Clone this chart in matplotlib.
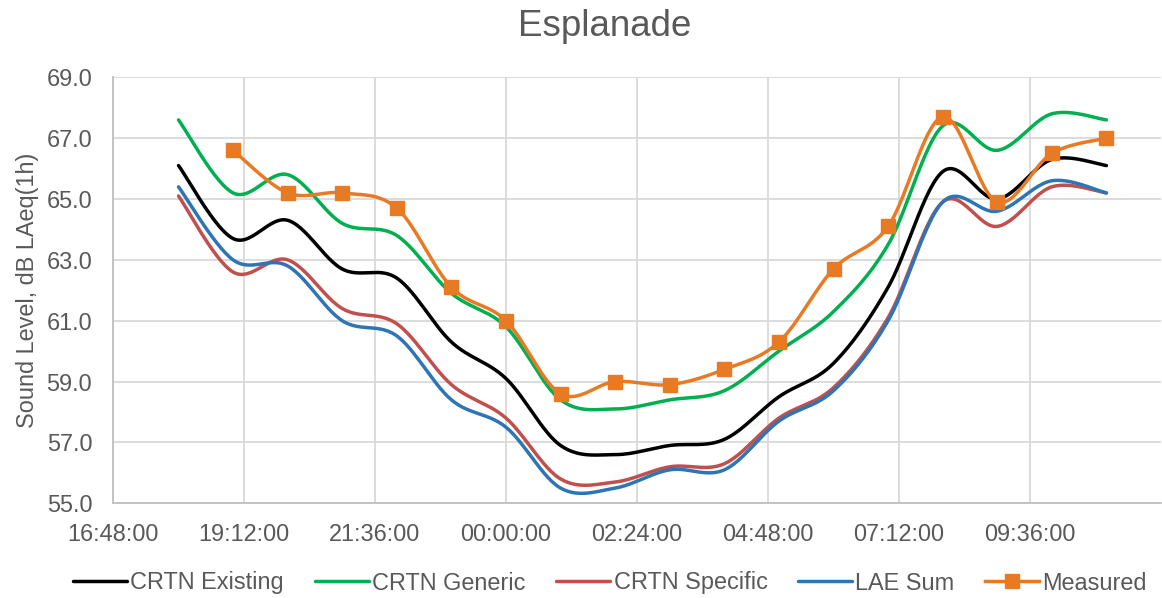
import numpy as np
import matplotlib
matplotlib.use("Agg")
import matplotlib.pyplot as plt
from matplotlib.ticker import FixedLocator, FuncFormatter

plt.rcParams['font.family'] = ['Liberation Sans', 'DejaVu Sans']

# Hourly timestamps (evening through to next morning)
hours = ["18:00", "19:00", "20:00", "21:00", "22:00", "23:00", "00:00", "01:00", "02:00",
         "03:00", "04:00", "05:00", "06:00", "07:00", "08:00", "09:00", "10:00", "11:00"]

crtn_existing = [66.1, 63.7, 64.3, 62.7, 62.4, 60.3, 59.1, 56.9, 56.6,
                 56.9, 57.1, 58.5, 59.6, 62.1, 65.9, 65.0, 66.3, 66.1]
crtn_generic = [67.6, 65.2, 65.8, 64.2, 63.8, 61.9, 60.8, 58.4, 58.1,
                58.4, 58.7, 60.0, 61.3, 63.5, 67.4, 66.6, 67.8, 67.6]
crtn_specific = [65.1, 62.6, 63.0, 61.4, 60.9, 58.9, 57.8, 55.8, 55.7,
                 56.2, 56.3, 57.8, 58.8, 61.1, 64.9, 64.1, 65.4, 65.2]
lae_sum = [65.4, 63.0, 62.8, 61.0, 60.5, 58.4, 57.5, 55.5, 55.5,
           56.1, 56.1, 57.7, 58.7, 61.0, 64.9, 64.6, 65.6, 65.2]

# Measured levels start one hour later (19:00)
measured = [66.6, 65.2, 65.2, 64.7, 62.1, 61.0, 58.6, 59.0, 58.9,
            59.4, 60.3, 62.7, 64.1, 67.7, 64.9, 66.5, 67.0]

y_ticks = [55.0, 57.0, 59.0, 61.0, 63.0, 65.0, 67.0, 69.0]
x_tick_days = [0.7, 0.8, 0.9, 1.0, 1.1, 1.2, 1.3, 1.4]


def to_days(labels):
    """Convert hh:mm strings to day fractions, rolling past midnight."""
    out = []
    day = 0.0
    prev = None
    for s in labels:
        h, m = map(int, s.split(":"))
        v = (h + m / 60.0) / 24.0
        if prev is not None and v + day < prev:
            day += 1.0
        out.append(v + day)
        prev = out[-1]
    return np.array(out)


def smooth(x, y, n=30):
    """Cardinal (Catmull-Rom style) Bezier smoothing through the points."""
    x = np.asarray(x, float)
    y = np.asarray(y, float)
    P = np.column_stack([x, y])
    Pe = np.vstack([P[0], P, P[-1]])
    t = np.linspace(0, 1, n)[:, None]
    segs = []
    for i in range(len(P) - 1):
        p0, p1, p2, p3 = Pe[i], Pe[i + 1], Pe[i + 2], Pe[i + 3]
        c1 = p1 + (p2 - p0) / 6.0
        c2 = p2 - (p3 - p1) / 6.0
        b = ((1 - t) ** 3) * p1 + 3 * ((1 - t) ** 2) * t * c1 + 3 * (1 - t) * t ** 2 * c2 + t ** 3 * p2
        segs.append(b if i == 0 else b[1:])
    B = np.vstack(segs)
    return B[:, 0], B[:, 1]


x_all = to_days(hours)
x_meas = x_all[1:]

fig = plt.figure(figsize=(11.62, 5.98), dpi=100)
ax = fig.add_axes([113 / 1162, 1 - 503.3 / 598, (1161 - 113) / 1162, (503.3 - 77.3) / 598])

lw = 2.5
series = [
    ("CRTN Existing", crtn_existing, "#000000"),
    ("CRTN Generic", crtn_generic, "#00B050"),
    ("CRTN Specific", crtn_specific, "#C0504D"),
    ("LAE Sum", lae_sum, "#2E75B6"),
]
handles = []
for name, vals, col in series:
    sx, sy = smooth(x_all, vals)
    h, = ax.plot(sx, sy, color=col, lw=lw, solid_capstyle='round', label=name, zorder=3)
    handles.append(h)

orange = "#E97A24"
sx, sy = smooth(x_meas, measured)
ax.plot(sx, sy, color=orange, lw=lw, solid_capstyle='round', zorder=4)
ax.plot(x_meas, measured, linestyle='none', marker='s', markersize=10.3,
        color=orange, zorder=5)
hm, = ax.plot([], [], color=orange, lw=lw, marker='s', markersize=10.3, label="Measured")
handles.append(hm)

ax.set_xlim(0.7, 1.5)
ax.set_ylim(55, 69)
ax.xaxis.set_major_locator(FixedLocator(x_tick_days))
ax.yaxis.set_major_locator(FixedLocator(y_ticks))


def fmt_time(v, pos):
    mins = int(round((v % 1.0) * 24 * 60))
    return f"{mins // 60:02d}:{mins % 60:02d}:00"


ax.xaxis.set_major_formatter(FuncFormatter(fmt_time))
ax.yaxis.set_major_formatter(FuncFormatter(lambda v, p: f"{v:.1f}"))

ax.grid(True, color="#D9D9D9", lw=1.3, zorder=0)
ax.set_axisbelow(True)
for side in ("top", "right"):
    ax.spines[side].set_visible(False)
for side in ("left", "bottom"):
    ax.spines[side].set_color("#BFBFBF")
    ax.spines[side].set_linewidth(1.3)
ax.tick_params(axis='both', length=0, labelsize=16.9, colors="#595959")
ax.tick_params(axis='x', pad=14)
ax.tick_params(axis='y', pad=15)

ax.set_ylabel("Sound Level, dB LAeq(1h)", fontsize=16.9, color="#595959", labelpad=5)
fig.text(605 / 1162, 1 - 27 / 598, "Esplanade", fontsize=26.5, color="#595959",
         ha='center', va='center')

fig.legend(handles=handles, loc='center', bbox_to_anchor=(610 / 1162, 1 - 583 / 598),
           ncol=5, frameon=False, fontsize=16.9, handlelength=2.3, handletextpad=0.15,
           columnspacing=1.3, labelcolor="#595959", borderaxespad=0)

fig.savefig("out.png", dpi=100)
